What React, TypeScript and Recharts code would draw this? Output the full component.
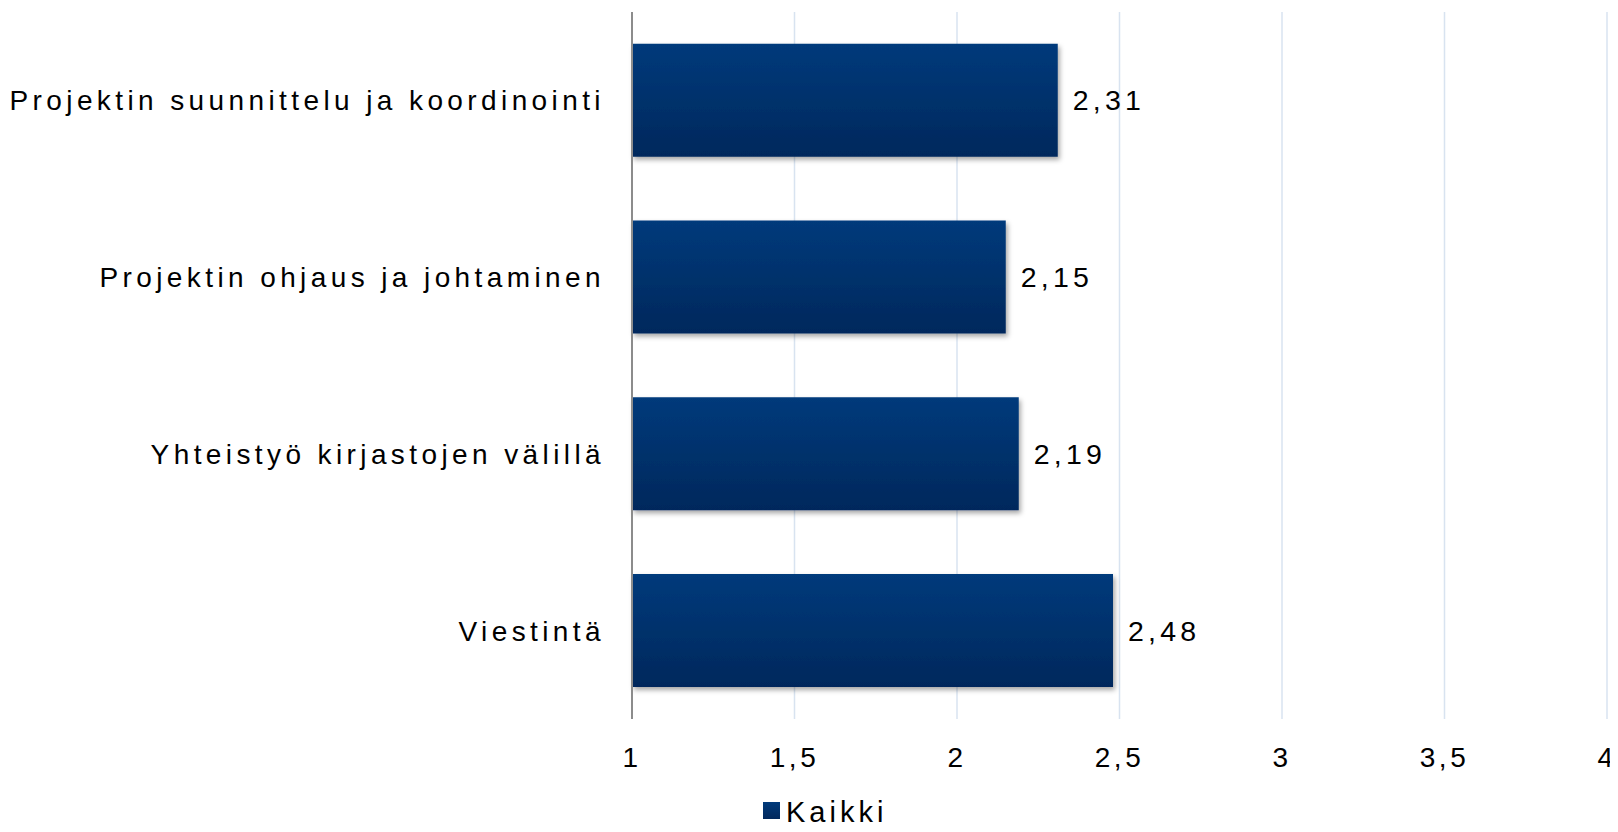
import React from 'react';
import { BarChart, Bar, XAxis, YAxis, CartesianGrid, Legend, LabelList } from 'recharts';

const categories = [
  'Projektin suunnittelu ja koordinointi',
  'Projektin ohjaus ja johtaminen',
  'Yhteistyö kirjastojen välillä',
  'Viestintä',
];
const kaikki = [2.31, 2.15, 2.19, 2.48];
const xTicks = [1, 1.5, 2, 2.5, 3, 3.5, 4];
const seriesName = 'Kaikki';

const data = categories.map((name, i) => ({ name, kaikki: kaikki[i] }));

const fmt = (v: number | string) => String(v).replace('.', ',');

const font = '"Liberation Sans", Arial, sans-serif';

const LegendContent = () => (
  <div style={{ height: 40, width: 1618, position: 'relative', fontFamily: font }}>
    <div style={{ position: 'absolute', left: 763, top: 10, width: 17, height: 17, background: 'linear-gradient(#013A7B, #01285C)' }} />
    <div style={{ position: 'absolute', left: 786, top: 0, fontSize: 29, letterSpacing: 4, color: '#000', lineHeight: '40px' }}>
      {seriesName}
    </div>
  </div>
);

const App = () => {
  return (
    <div style={{ margin: -8, width: 1618, height: 832, background: '#fff' }}>
      <BarChart
        width={1618}
        height={832}
        data={data}
        layout="vertical"
        margin={{ top: 12, right: 11, left: 0, bottom: 0 }}
        barCategoryGap="18%"
      >
        <defs>
          <linearGradient id="barFill" x1="0" y1="0" x2="0" y2="1">
            <stop offset="0%" stopColor="#013A7B" />
            <stop offset="100%" stopColor="#01285C" />
          </linearGradient>
          <filter id="barShadow" x="-5%" y="-20%" width="115%" height="150%">
            <feDropShadow dx="2" dy="3" stdDeviation="2.5" floodColor="#000" floodOpacity="0.35" />
          </filter>
        </defs>
        <CartesianGrid horizontal={false} stroke="#D8E3F0" strokeWidth={1.5} />
        <XAxis
          type="number"
          domain={[1, 4]}
          ticks={xTicks}
          tickFormatter={fmt}
          axisLine={false}
          tickLine={false}
          tickSize={0}
          tickMargin={28}
          height={73}
          interval={0}
          tick={{ fontSize: 28, fill: '#000', fontFamily: font, letterSpacing: 3.5 }}
        />
        <YAxis
          type="category"
          dataKey="name"
          width={632}
          axisLine={{ stroke: '#8C8C8C', strokeWidth: 2 }}
          tickLine={false}
          tickSize={0}
          tickMargin={27}
          tick={{ fontSize: 28, fill: '#000', fontFamily: font, letterSpacing: 4.4 }}
        />
        <Legend verticalAlign="bottom" height={40} content={<LegendContent />} />
        <Bar
          dataKey="kaikki"
          name={seriesName}
          fill="url(#barFill)"
          filter="url(#barShadow)"
          isAnimationActive={false}
        >
          <LabelList
            dataKey="kaikki"
            position="right"
            offset={15}
            formatter={fmt}
            style={{ fontSize: 28.5, fill: '#000', fontFamily: font, letterSpacing: 4.2 }}
          />
        </Bar>
      </BarChart>
    </div>
  );
};

export default App;
